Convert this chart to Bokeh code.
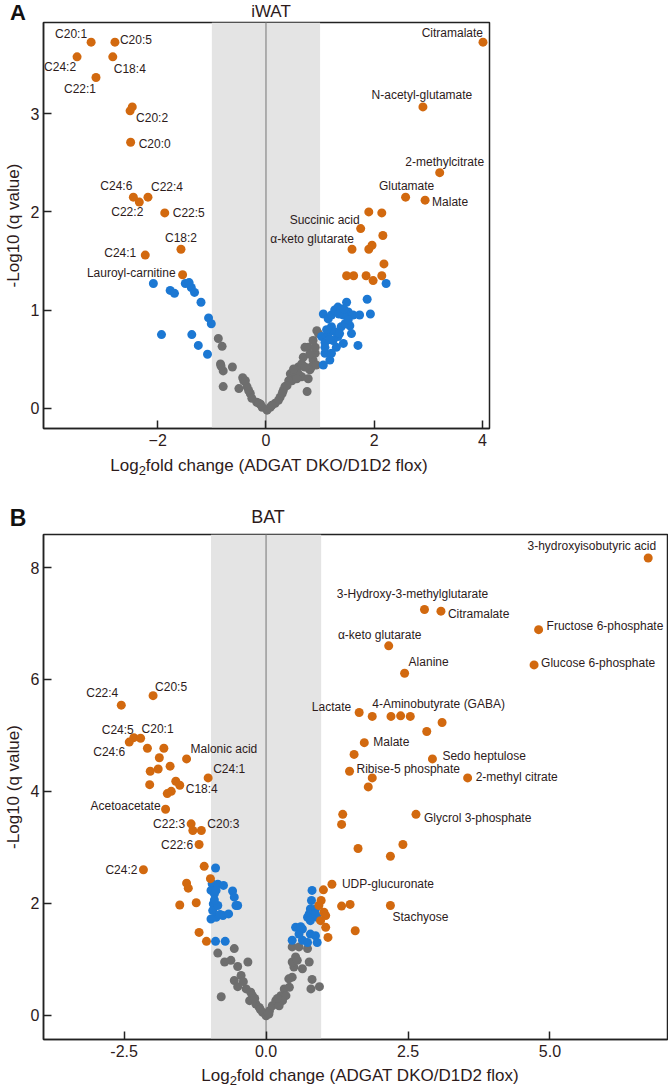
from bokeh.plotting import figure
from bokeh.models import ColumnDataSource, BoxAnnotation, Span, Div, FixedTicker, PrintfTickFormatter
from bokeh.embed import file_html
from bokeh.resources import INLINE
from bokeh.core.properties import value

ORANGE = "#d2690f"
BLUE = "#1c78d3"
GRAY = "#6e6e6e"
TXT = "#2d1b1b"
FONT = "Liberation Sans"

# ---------------- iWAT data ----------------
iwat_lab_names = ["C20:1", "C20:5", "C24:2", "C18:4", "C22:1", "C20:2", "C20:0", "C24:6", "C22:2",
                  "C22:4", "C22:5", "C18:2", "C24:1", "Lauroyl-carnitine", "Citramalate",
                  "N-acetyl-glutamate", "2-methylcitrate", "Glutamate", "Malate", "Succinic acid",
                  "α-keto glutarate"]
iwat_lab_x = [-3.23, -2.79, -3.49, -2.83, -3.14, -2.51, -2.50, -2.45, -2.34, -2.18, -1.87, -1.57,
              -2.23, -1.54, 4.01, 2.90, 3.21, 2.58, 2.94, 1.75, 1.59]
iwat_lab_y = [3.73, 3.73, 3.58, 3.58, 3.37, 3.03, 2.71, 2.15, 2.10, 2.15, 1.99, 1.62, 1.56, 1.36,
              3.73, 3.07, 2.40, 2.15, 2.12, 1.83, 1.62]
iwat_orange_x = [-2.47, 1.90, 2.14, 2.16, 1.90, 1.96, 2.18, 1.49, 1.62, 1.85, 1.98, 2.14]
iwat_orange_y = [3.07, 2.00, 1.99, 1.76, 1.62, 1.66, 1.47, 1.35, 1.35, 1.35, 1.30, 1.35]
iwat_blue_x = [-2.08, -1.77, -1.69, -1.49, -1.42, -1.38, -1.32, -1.20, -1.06, -1.01, -1.93, -1.37,
               -1.25, -1.08,
               1.06, 1.15, 1.21, 1.27, 1.33, 1.39, 1.49, 1.52, 1.43, 1.61, 1.73, 1.87, 1.93, 1.03,
               1.09, 1.15, 1.21, 1.27, 1.33, 1.39, 1.46, 1.55, 1.58, 1.09, 1.06, 1.18, 1.24, 1.30,
               1.36, 1.43, 1.52, 1.70, 1.09, 1.21, 2.22, 1.35, 1.44, 1.12, 1.18]
iwat_blue_y = [1.27, 1.20, 1.17, 1.27, 1.28, 1.23, 1.18, 1.08, 0.92, 0.86, 0.75, 0.75, 0.64, 0.55,
               0.96, 0.91, 0.95, 1.00, 1.03, 1.01, 1.08, 0.98, 0.95, 0.95, 0.95, 1.11, 0.96, 0.73,
               0.67, 0.76, 0.83, 0.78, 0.73, 0.83, 0.86, 0.84, 0.76, 0.56, 0.44, 0.49, 0.69, 0.62,
               0.76, 0.66, 0.90, 0.64, 0.62, 0.56, 1.27, 0.96, 1.01, 0.80, 0.70]
iwat_gray_x = [-0.88, -0.81, -0.84, -0.79, -0.62, -0.79, -0.41, -0.35, -0.29, -0.17, -0.10, 0.02,
               0.08, -0.43, -0.32, -0.26, -0.13, -0.07, -0.50, -0.38, -0.83,
               0.17, 0.26, 0.32, 0.45, 0.48, 0.60, 0.66, 0.72, 0.78, 0.87, 0.91, 0.94, 0.97, 0.76,
               0.66, 0.54, 0.81, 0.87, 0.84, 0.78, 0.35, 0.23, 0.11, 0.60, 0.69, 0.42, 0.39, 0.51,
               0.72, 0.81, 0.91, 0.93, 0.57, 0.30]
iwat_gray_y = [0.71, 0.63, 0.45, 0.38, 0.42, 0.22, 0.28, 0.22, 0.15, 0.06, 0.04, -0.02,
               0.01, 0.31, 0.18, 0.10, 0.05, 0.01, 0.20, 0.28, 0.43,
               0.05, 0.11, 0.18, 0.35, 0.28, 0.42, 0.45, 0.62, 0.62, 0.69, 0.56, 0.79, 0.76, 0.17,
               0.32, 0.35, 0.39, 0.49, 0.42, 0.30, 0.22, 0.08, 0.03, 0.35, 0.52, 0.28, 0.23, 0.40,
               0.42, 0.55, 0.62, 0.44, 0.30, 0.15]
iwat_xticks = [-2, 0, 2, 4]
iwat_yticks = [0, 1, 2, 3]

# ---------------- BAT data ----------------
bat_lab_names = ["3-hydroxyisobutyric acid", "3-Hydroxy-3-methylglutarate", "Citramalate",
                 "Fructose 6-phosphate", "α-keto glutarate", "Alanine", "Glucose 6-phosphate",
                 "Lactate", "4-Aminobutyrate (GABA)", "Malate", "Sedo heptulose",
                 "Ribise-5 phosphate", "2-methyl citrate", "Glycrol 3-phosphate", "UDP-glucuronate",
                 "Stachyose", "C22:4", "C20:5", "C24:5", "C20:1", "C24:6", "Malonic acid", "C24:1",
                 "C18:4", "Acetoacetate", "C22:3", "C20:3", "C22:6", "C24:2"]
bat_lab_x = [6.73, 2.79, 3.08, 4.80, 2.16, 2.44, 4.72, 1.64, 1.87, 1.73, 2.93, 1.47, 3.55, 2.64,
             1.16, 2.19, -2.55, -1.99, -2.33, -2.21, -2.41, -1.40, -1.02, -1.52, -1.77, -1.32,
             -1.14, -1.18, -2.16]
bat_lab_y = [8.17, 7.25, 7.22, 6.89, 6.60, 6.11, 6.26, 5.41, 5.34, 4.87, 4.58, 4.36, 4.24, 3.59,
             2.34, 1.96, 5.54, 5.71, 4.96, 4.95, 4.88, 4.58, 4.24, 4.11, 3.68, 3.42, 3.30, 3.05,
             2.60]
bat_orange_x = [2.20, 2.37, 2.54, 3.10, 2.83, 1.55, 1.87, 1.80, 1.35, 1.33, 1.62, 2.41, 2.19, 1.01,
                1.33, 1.48, 1.57, 0.97, 0.93, 1.02, 1.05, 0.96, 1.05, 1.09,
                -2.09, -1.80, -1.88, -1.69, -1.90, -2.04, -2.05, -1.59, -1.67, -1.74, -1.29, -1.09,
                -0.98, -1.40, -1.37, -1.52, -1.23, -1.18, -1.05]
bat_orange_y = [5.34, 5.35, 5.34, 5.23, 5.07, 4.66, 4.24, 4.08, 3.59, 3.41, 2.98, 3.05, 2.84, 2.24,
                1.95, 1.98, 1.51, 2.05, 1.96, 1.84, 1.78, 1.69, 1.57, 1.39,
                4.77, 4.77, 4.60, 4.45, 4.40, 4.36, 4.12, 4.18, 4.00, 3.96, 3.30, 2.66,
                2.44, 2.36, 2.27, 1.97, 2.01, 1.48, 1.32]
bat_blue_x = [-0.89, -0.95, -0.85, -0.75, -0.97, -0.91, -0.59, -0.56, -0.50, -0.93, -0.94, -0.88,
              -0.76, -0.66, -0.97, -0.88, -0.53, -0.85, -0.89, -0.72, -0.81, -0.91,
              0.81, 0.80, 0.78, 0.87, 0.76, 0.73, 0.90, 0.78, 0.52, 0.64, 0.78, 0.87, 0.46, 0.64,
              0.73, 0.90, 0.58, 0.61, 0.87]
bat_blue_y = [2.63, 2.35, 2.34, 2.32, 2.23, 2.17, 2.22, 2.11, 1.96, 1.99, 1.87, 1.75,
              1.78, 1.81, 1.72, 2.23, 1.96, 1.96, 1.32, 1.32, 1.80, 2.06,
              2.23, 2.05, 1.90, 1.90, 1.81, 1.75, 1.75, 1.69, 1.57, 1.54, 1.45, 1.42, 1.34, 1.34,
              1.30, 1.30, 1.45, 1.58, 1.81]
bat_gray_x = [-0.85, -0.56, -0.73, -0.62, -0.50, -0.32, -0.44, -0.56, -0.50, -0.35, -0.27, -0.24,
              -0.29, -0.79, -0.18, -0.12, -0.06, 0.00, 0.06, 0.11, 0.17, 0.26, 0.32, 0.41, 0.46,
              0.49, 0.46, 0.52, 0.46, 0.58, 0.73, 0.76, 0.64, 0.81, 0.79, 0.94, 0.55, 0.35, 0.29,
              0.23, -0.40, -0.20, -0.10, 0.05, 0.40, 0.20]
bat_gray_y = [1.11, 1.19, 0.95, 0.98, 0.87, 0.95, 0.71, 0.62, 0.51, 0.47, 0.41, 0.35,
              0.26, 0.33, 0.20, 0.14, 0.05, -0.01, 0.08, 0.17, 0.26, 0.35, 0.47, 0.50, 0.68,
              0.86, 0.95, 1.04, 1.22, 1.22, 1.19, 0.95, 0.83, 0.64, 0.47, 0.51, 0.98, 0.35, 0.26,
              0.17, 0.60, 0.30, 0.10, 0.02, 0.65, 0.30]
bat_xticks = [-2.5, 0.0, 2.5, 5.0]
bat_yticks = [0, 2, 4, 6, 8]

# ---------------- label placement (pixels; dy positive = up) ----------------
iwat_lab_align = ["right", "left", "right", "left", "right", "left", "left", "right", "right",
                  "left", "left", "center", "right", "right", "right", "center", "center",
                  "center", "left", "right", "right"]
iwat_lab_dx = [-4, 5, -1, 1, 0, 6, 8, -1, 4, 3, 8, 0, -9, -7, 0, -1, 5, 1, 7, -1, 2]
iwat_lab_dy = [8, 2, -10, -12, -12, -7, -2, 11, -10, 10, 0, 11, 2, 2, 9, 12, 11, 11, -2, 9, 10]

bat_lab_align = ["right", "center", "left", "left", "center", "left", "left", "right", "left",
                 "left", "left", "left", "left", "left", "left", "left", "right", "left", "right",
                 "left", "right", "left", "left", "left", "right", "right", "left", "right",
                 "right"]
bat_lab_dx = [8, -12, 7, 8, -9, 4, 7, -8, 0, 9, 10, 7, 8, 8, 10, 2, -3, 2, 0, 1, -4, 4, 5, 6, -5,
              -6, 6, -6, -6]
bat_lab_dy = [12, 15, -3, 4, 11, 11, 2, 5, 12, 1, 3, 2, 1, -4, 0, -11, 12, 9, 8, 9, -10, 10, 9,
              -4, 3, 0, 7, 0, 0]

XLABEL_HTML = ('Log<sub style="font-size:13px; line-height:0; vertical-align:-4px;">2</sub>'
               'fold change (ADGAT DKO/D1D2 flox)')


def style_axes(p, xticks, yticks, xfmt):
    p.xgrid.visible = False
    p.ygrid.visible = False
    p.outline_line_color = "#222222"
    p.outline_line_width = 1.5
    p.outline_line_alpha = 1
    p.xaxis.ticker = FixedTicker(ticks=xticks)
    p.yaxis.ticker = FixedTicker(ticks=yticks)
    if xfmt:
        p.xaxis.formatter = PrintfTickFormatter(format=xfmt)
    for ax in (p.xaxis[0], p.yaxis[0]):
        ax.major_tick_in = 8
        ax.major_tick_out = 0
        ax.minor_tick_in = 0
        ax.minor_tick_out = 0
        ax.axis_line_width = 1.5
        ax.axis_line_color = "#222222"
        ax.major_tick_line_width = 1.5
        ax.major_tick_line_color = "#222222"
        ax.major_label_text_font = FONT
        ax.major_label_text_font_size = "16px"
        ax.major_label_text_color = TXT
        ax.axis_label_text_font = FONT
        ax.axis_label_text_font_style = "normal"
        ax.axis_label_text_color = TXT
        ax.axis_label_text_font_size = "17px"
    p.yaxis.major_label_standoff = 4
    p.yaxis.axis_label_standoff = 5
    p.xaxis.major_label_standoff = 5
    p.yaxis.axis_label = "-Log10 (q value)"


def add_points(p, band, gx, gy, bx, by, ox, oy, lx, ly, names, align, dx, dy):
    p.add_layout(BoxAnnotation(left=-band, right=band, fill_color="#e4e4e4", fill_alpha=1,
                               line_color=None, level="underlay"))
    p.add_layout(Span(location=0, dimension="height", line_color="#9a9a9a", line_width=1.5,
                      level="underlay"))
    p.scatter(gx, gy, size=9, fill_color=GRAY, line_color=None)
    p.scatter(bx, by, size=9, fill_color=BLUE, line_color=None)
    p.scatter(ox, oy, size=9, fill_color=ORANGE, line_color=None)
    p.scatter(lx, ly, size=9, fill_color=ORANGE, line_color=None)
    src = ColumnDataSource(dict(x=lx, y=ly, name=names, align=align, dx=dx,
                                dy=[-v for v in dy]))
    p.text(x="x", y="y", text="name", source=src, x_offset="dx", y_offset="dy",
           text_align="align", text_baseline="middle", text_font=value(FONT),
           text_font_size="12px", text_color=TXT)


def text_div(html, center_x, top, width, height, size, weight="normal", color=TXT):
    inner = ('<div style="width:%dpx; text-align:center; white-space:nowrap; '
             'font-family:\'Liberation Sans\'; font-size:%dpx; font-weight:%s; '
             'line-height:1; color:%s;">%s</div>' % (width, size, weight, color, html))
    return Div(text=inner, width=width, height=height,
               styles={"position": "absolute", "left": "%dpx" % round(center_x - width / 2),
                       "top": "%dpx" % top, "overflow": "visible"})


# ---------------- panel A ----------------
p1 = figure(width=660, height=480, x_range=(-4.11, 4.13), y_range=(-0.207, 3.93),
            output_backend="svg", toolbar_location=None, min_border_left=40,
            min_border_right=171, min_border_top=22, min_border_bottom=52)
style_axes(p1, iwat_xticks, iwat_yticks, None)
add_points(p1, 1.0, iwat_gray_x, iwat_gray_y, iwat_blue_x, iwat_blue_y, iwat_orange_x,
           iwat_orange_y, iwat_lab_x, iwat_lab_y, iwat_lab_names, iwat_lab_align, iwat_lab_dx,
           iwat_lab_dy)

# ---------------- panel B ----------------
p2 = figure(width=668, height=605, x_range=(-3.92, 7.07), y_range=(-0.434, 8.59),
            output_backend="svg", toolbar_location=None, min_border_left=40,
            min_border_right=1, min_border_top=54, min_border_bottom=46)
style_axes(p2, bat_xticks, bat_yticks, "%.1f")
add_points(p2, 0.97, bat_gray_x, bat_gray_y, bat_blue_x, bat_blue_y, bat_orange_x, bat_orange_y,
           bat_lab_x, bat_lab_y, bat_lab_names, bat_lab_align, bat_lab_dx, bat_lab_dy)

# titles, panel letters and x-axis labels
extras = [
    text_div("A", 13, -3, 26, 34, 22, "bold", "#111111"),
    text_div("iWAT", 266, -2, 120, 30, 17),
    text_div(XLABEL_HTML, 264, 452, 400, 30, 17),
    text_div("B", 13, 502, 26, 34, 23, "bold", "#111111"),
    text_div("BAT", 263, 503, 120, 30, 18),
    text_div(XLABEL_HTML, 355, 1062, 400, 25, 17),
]

open("out.html", "w").write(file_html([p1, p2] + extras, INLINE))
